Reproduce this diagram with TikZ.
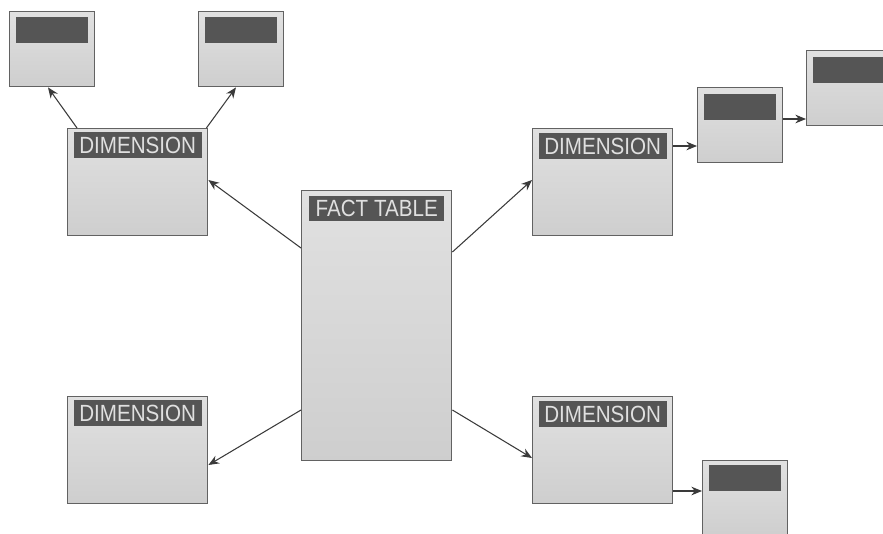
\documentclass[tikz,border=0pt]{standalone}
\usepackage{fontspec}
\setmainfont{Liberation Sans}
\newfontfamily\headfont[FakeStretch=0.88]{Liberation Sans}
\usetikzlibrary{arrows.meta, positioning, calc}

\definecolor{boxfill}{HTML}{D9D9D9}
\definecolor{boxline}{HTML}{626262}
\definecolor{headfill}{HTML}{555555}
\definecolor{wirecol}{HTML}{3A3A3A}

\begin{document}
\begin{tikzpicture}[
    x=0.3mm, y=-0.3mm,
    tbl/.style={rectangle, draw=boxline, line width=1.2pt, top color=boxfill!80, bottom color=boxfill!95!black,
      anchor=north west, inner sep=0pt},
    dimbox/.style={tbl, minimum width=42mm, minimum height=32.1mm},
    subbox/.style={tbl, minimum width=25.5mm, minimum height=22.5mm},
    factbox/.style={tbl, minimum width=45mm, minimum height=81mm},
    head/.style={rectangle, fill=headfill, inner sep=0pt, text=white!88!black,
      font=\headfont\fontsize{20}{20}\selectfont},
    dimhead/.style={head, minimum width=38.4mm, minimum height=7.8mm},
    subhead/.style={head, minimum width=21.6mm, minimum height=7.8mm},
    facthead/.style={head, minimum width=40.5mm, minimum height=7.5mm},
    link/.style={draw=wirecol, line width=0.9pt, -{Stealth[length=3.2mm, width=2.6mm]}}]

  \useasboundingbox (0,0) rectangle (883,533);
  \clip (0,0) rectangle (883,533);

  % fact table
  \node[factbox] (fact) at (301,190) {};
  \node[facthead, below=1.8mm of fact.north] (facth) {FACT TABLE};

  % dimensions
  \node[dimbox] (dtl) at (67,128) {};
  \node[dimhead, below=1.2mm of dtl.north] (dtlh) {DIMENSION};
  \node[dimbox] (dtr) at (532,128) {};
  \node[dimhead, below=1.5mm of dtr.north] (dtrh) {DIMENSION};
  \node[dimbox] (dbl) at (67,396) {};
  \node[dimhead, below=1.2mm of dbl.north] (dblh) {DIMENSION};
  \node[dimbox] (dbr) at (532,396) {};
  \node[dimhead, below=1.5mm of dbr.north] (dbrh) {DIMENSION};

  % sub dimensions
  \node[subbox] (sa) at (9,11) {};
  \node[subhead, below=1.8mm of sa.north] (sah) {};
  \node[subbox] (sb) at (198,11) {};
  \node[subhead, below=1.8mm of sb.north] (sbh) {};
  \node[subbox] (str1) at (697,87) {};
  \node[subhead, below=2.1mm of str1.north] (str1h) {};
  \node[subbox] (str2) at (806,50) {};
  \node[subhead, below=2.1mm of str2.north] (str2h) {};
  \node[subbox] (sbr) at (702,460) {};
  \node[subhead, below=1.5mm of sbr.north] (sbrh) {};

  % connectors
  \draw[link] ($(fact.north west)+(0,58)$) -- ($(dtl.north east)+(0,52)$);
  \draw[link] ($(fact.north east)+(0,62)$) -- ($(dtr.north west)+(0,52)$);
  \draw[link] ($(fact.north west)+(0,220)$) -- ($(dbl.north east)+(0,69)$);
  \draw[link] ($(fact.north east)+(0,220)$) -- ($(dbr.north west)+(0,62)$);
  \draw[link] ($(dtl.north west)+(10,0)$) -- ($(sa.south west)+(39,0)$);
  \draw[link] ($(dtl.north east)+(-2,0)$) -- ($(sb.south west)+(38,0)$);
  \draw[link] ($(dtr.north east)+(0,18)$) -- ($(str1.north west)+(0,59)$);
  \draw[link] ($(str1.north east)+(0,32)$) -- ($(str2.north west)+(0,69)$);
  \draw[link] ($(dbr.north east)+(0,95)$) -- ($(sbr.north west)+(0,31)$);
\end{tikzpicture}
\end{document}
